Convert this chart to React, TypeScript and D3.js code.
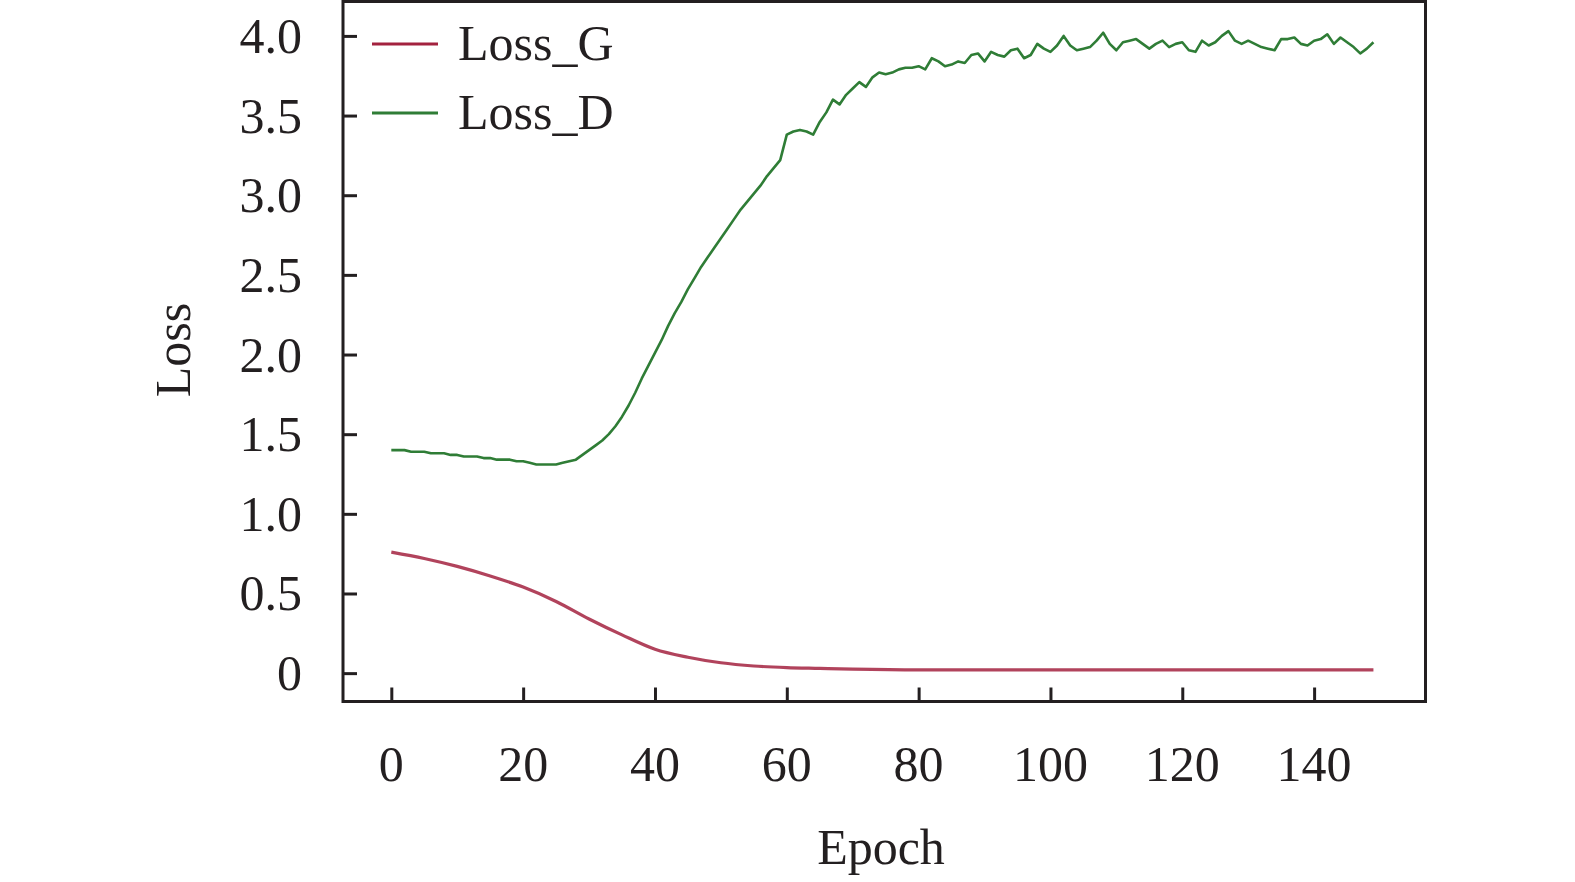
import * as d3 from "d3";
import React, { useEffect, useRef } from "react";

// Epochs for the discriminator loss (one value per epoch)
const epochsD: number[] = d3.range(0, 150);

const lossD: number[] = [
  1.4, 1.4, 1.4, 1.39, 1.39, 1.39, 1.38, 1.38, 1.38, 1.37,
  1.37, 1.36, 1.36, 1.36, 1.35, 1.35, 1.34, 1.34, 1.34, 1.33,
  1.33, 1.32, 1.31, 1.31, 1.31, 1.31, 1.32, 1.33, 1.34, 1.37,
  1.4, 1.43, 1.46, 1.5, 1.55, 1.61, 1.68, 1.76, 1.85, 1.93,
  2.01, 2.09, 2.18, 2.26, 2.33, 2.41, 2.48, 2.55, 2.61, 2.67,
  2.73, 2.79, 2.85, 2.91, 2.96, 3.01, 3.06, 3.12, 3.17, 3.22,
  3.38, 3.4, 3.41, 3.4, 3.38, 3.46, 3.52, 3.6, 3.57, 3.63,
  3.67, 3.71, 3.68, 3.74, 3.77, 3.76, 3.77, 3.79, 3.8, 3.8,
  3.81, 3.79, 3.86, 3.84, 3.81, 3.82, 3.84, 3.83, 3.88, 3.89,
  3.84, 3.9, 3.88, 3.87, 3.91, 3.92, 3.86, 3.88, 3.95, 3.92,
  3.9, 3.94, 4.0, 3.94, 3.91, 3.92, 3.93, 3.97, 4.02, 3.95,
  3.91, 3.96, 3.97, 3.98, 3.95, 3.92, 3.95, 3.97, 3.93, 3.95,
  3.96, 3.91, 3.9, 3.97, 3.94, 3.96, 4.0, 4.03, 3.97, 3.95,
  3.97, 3.95, 3.93, 3.92, 3.91, 3.98, 3.98, 3.99, 3.95, 3.94,
  3.97, 3.98, 4.01, 3.95, 3.99, 3.96, 3.93, 3.89, 3.92, 3.96,
];

// Generator loss is smooth, read every few epochs
const epochsG: number[] = [0, 5, 10, 15, 20, 25, 30, 35, 40, 45, 50, 55, 60, 65, 70, 80, 90, 100, 110, 120, 130, 140, 149];
const lossG: number[] = [0.76, 0.72, 0.67, 0.61, 0.54, 0.45, 0.34, 0.24, 0.15, 0.1, 0.065, 0.045, 0.035, 0.03, 0.025, 0.02, 0.02, 0.02, 0.02, 0.02, 0.02, 0.02, 0.02];

const xTicks: number[] = [0, 20, 40, 60, 80, 100, 120, 140];
const yTicks: number[] = [0, 0.5, 1.0, 1.5, 2.0, 2.5, 3.0, 3.5, 4.0];

const seriesNames: string[] = ["Loss_G", "Loss_D"];
const seriesColors: string[] = ["#a3223f", "#2f7d36"];

const FONT = "'Liberation Serif', 'Times New Roman', serif";

const App: React.FC = () => {
  const ref = useRef<SVGSVGElement | null>(null);

  useEffect(() => {
    if (!ref.current) return;
    d3.select(ref.current).selectAll("*").remove();

    const width = 1575;
    const height = 882;
    const plot = { left: 343, right: 1425.5, top: 1.5, bottom: 701.5 };

    const svg = d3.select(ref.current).attr("width", width).attr("height", height);

    const x = d3.scaleLinear().domain([-7.33, 156.9]).range([plot.left, plot.right]);
    const y = d3.scaleLinear().domain([-0.178, 4.216]).range([plot.bottom, plot.top]);

    const line = d3
      .line<[number, number]>()
      .x((d) => x(d[0]))
      .y((d) => y(d[1]));

    // Generator loss (smooth)
    svg
      .append("path")
      .datum(epochsG.map((e, i) => [e, lossG[i]] as [number, number]))
      .attr("fill", "none")
      .attr("stroke", seriesColors[0])
      .attr("stroke-width", 3.2)
      .attr("stroke-opacity", 0.85)
      .attr("d", line.curve(d3.curveMonotoneX));

    // Discriminator loss (noisy)
    svg
      .append("path")
      .datum(epochsD.map((e, i) => [e, lossD[i]] as [number, number]))
      .attr("fill", "none")
      .attr("stroke", seriesColors[1])
      .attr("stroke-width", 2.6)
      .attr("stroke-linejoin", "round")
      .attr("d", line.curve(d3.curveLinear));

    // Frame
    svg
      .append("rect")
      .attr("x", plot.left)
      .attr("y", plot.top)
      .attr("width", plot.right - plot.left)
      .attr("height", plot.bottom - plot.top)
      .attr("fill", "none")
      .attr("stroke", "#231f20")
      .attr("stroke-width", 3);

    // X axis, ticks pointing inward
    const gx = svg
      .append("g")
      .attr("transform", `translate(0,${plot.bottom})`)
      .call(d3.axisTop(x).tickValues(xTicks).tickSize(14).tickFormat(() => ""));
    gx.select(".domain").remove();
    gx.selectAll("line").attr("stroke", "#231f20").attr("stroke-width", 3);

    svg
      .append("g")
      .selectAll("text")
      .data(xTicks)
      .join("text")
      .attr("x", (d) => x(d))
      .attr("y", 781)
      .attr("text-anchor", "middle")
      .attr("font-family", FONT)
      .attr("font-size", 50)
      .attr("fill", "#231f20")
      .text((d) => String(d));

    // Y axis, ticks pointing inward
    const gy = svg
      .append("g")
      .attr("transform", `translate(${plot.left},0)`)
      .call(d3.axisRight(y).tickValues(yTicks).tickSize(14).tickFormat(() => ""));
    gy.select(".domain").remove();
    gy.selectAll("line").attr("stroke", "#231f20").attr("stroke-width", 3);

    svg
      .append("g")
      .selectAll("text")
      .data(yTicks)
      .join("text")
      .attr("x", 302)
      .attr("y", (d) => y(d) + 17)
      .attr("text-anchor", "end")
      .attr("font-family", FONT)
      .attr("font-size", 50)
      .attr("fill", "#231f20")
      .text((d) => (d === 0 ? "0" : d.toFixed(1)));

    // Axis titles
    svg
      .append("text")
      .attr("x", 881)
      .attr("y", 864)
      .attr("text-anchor", "middle")
      .attr("font-family", FONT)
      .attr("font-size", 50)
      .attr("fill", "#231f20")
      .text("Epoch");

    svg
      .append("text")
      .attr("transform", `translate(190,350) rotate(-90)`)
      .attr("text-anchor", "middle")
      .attr("font-family", FONT)
      .attr("font-size", 50)
      .attr("fill", "#231f20")
      .text("Loss");

    // Legend
    const legend = svg.append("g");
    seriesNames.forEach((name, i) => {
      const ly = 44 + i * 69;
      legend
        .append("line")
        .attr("x1", 372)
        .attr("x2", 438)
        .attr("y1", ly)
        .attr("y2", ly)
        .attr("stroke", seriesColors[i])
        .attr("stroke-width", 3);
      legend
        .append("text")
        .attr("x", 458)
        .attr("y", ly + 16)
        .attr("font-family", FONT)
        .attr("font-size", 50)
        .attr("fill", "#231f20")
        .text(name);
    });
  }, []);

  return <svg ref={ref} style={{ position: "absolute", left: 0, top: 0, background: "#fff" }}></svg>;
};

export default App;
